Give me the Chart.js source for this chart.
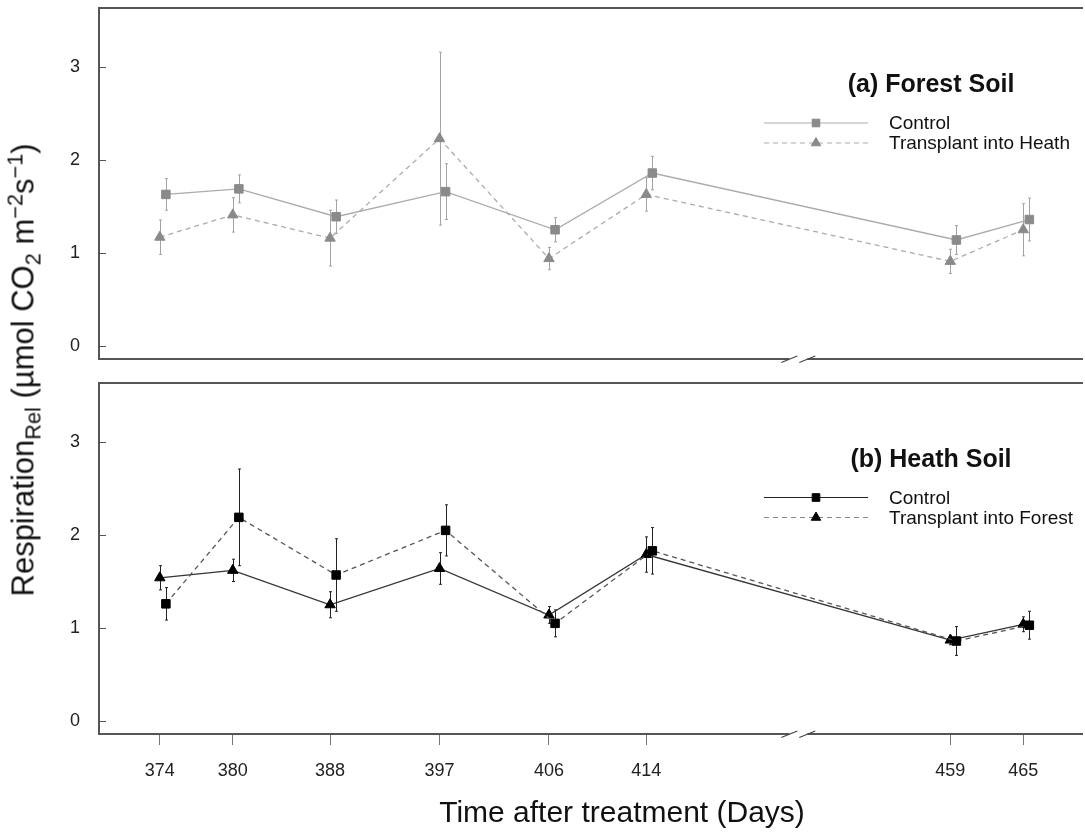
<!DOCTYPE html>
<html>
<head>
<meta charset="utf-8">
<script src="https://cdn.jsdelivr.net/npm/chart.js@4.4.1/dist/chart.umd.min.js"></script>
<style>
  html, body { margin: 0; padding: 0; background: #fff; }
  body { width: 1085px; height: 834px; position: relative; overflow: hidden;
         font-family: "Liberation Sans", Arial, Helvetica, sans-serif; color: #111; }
  .panel { position: absolute; left: 0; width: 1085px; }
  #wrapA { top: 0; height: 372px; }
  #wrapB { top: 372px; height: 462px; }
  #ytitle { position: absolute; left: 23px; top: 370px; white-space: nowrap; line-height: 1;
            font-size: 31px; transform: translate(-50%, -50%) rotate(-90deg); }
  #xtitle { position: absolute; left: 622px; top: 812px; white-space: nowrap; line-height: 1;
            font-size: 30px; transform: translate(-50%, -50%); }
  sub, sup { font-size: 70%; line-height: 0; }
</style>
</head>
<body>
<div class="panel" id="wrapA"><canvas id="forest"></canvas></div>
<div class="panel" id="wrapB"><canvas id="heath"></canvas></div>
<div id="ytitle">Respiration<sub>Rel</sub> (µmol CO<sub>2</sub> m<sup>−2</sup>s<sup>−1</sup>)</div>
<div id="xtitle">Time after treatment (Days)</div>
<script>
/* ── data ─────────────────────────────────────────────────────────── */
const days = [374, 380, 388, 397, 406, 414, 459, 465];
const yTicks = [0, 1, 2, 3];

// (a) Forest soil
const forestControl      = [1.63, 1.69, 1.39, 1.66, 1.25, 1.86, 1.14, 1.36];
const forestControlSE    = [0.17, 0.15, 0.18, 0.30, 0.13, 0.18, 0.155, 0.23];
const forestTransplant   = [1.17, 1.41, 1.16, 2.23, 0.94, 1.63, 0.91, 1.25];
const forestTransplantSE = [0.185, 0.185, 0.30, 0.93, 0.12, 0.18, 0.13, 0.28];

// (b) Heath soil
const heathControl      = [1.26, 2.19, 1.57, 2.05, 1.05, 1.83, 0.86, 1.03];
const heathControlSE    = [0.175, 0.52, 0.39, 0.275, 0.145, 0.25, 0.155, 0.15];
const heathTransplant   = [1.54, 1.62, 1.25, 1.64, 1.14, 1.79, 0.87, 1.04];
const heathTransplantSE = [0.13, 0.12, 0.14, 0.17, 0.09, 0.19, 0.05, 0.08];

/* ── broken x axis: 20 days are cut out between 414 and 459 ───────── */
const BREAK_GAP = 20;
const LAST_BEFORE_BREAK = 414;
const axisX = d => (d > LAST_BEFORE_BREAK ? d - BREAK_GAP : d);
const dayOf = v => (v > LAST_BEFORE_BREAK ? v + BREAK_GAP : v);
const BREAK_AT = (LAST_BEFORE_BREAK + axisX(459)) / 2;
const X_MIN = 369, X_MAX = 449.5;
const Y_MIN = -0.14, Y_MAX = 3.635;
const DODGE = 0.5;   // squares sit a little right of the triangles

const FONT = '"Liberation Sans", Arial, Helvetica, sans-serif';
Chart.defaults.font.family = FONT;
Chart.defaults.color = '#222';

const SQ_R = 6, TRI_R = 6;

function points(vals, ses, dodge){
  return days.map((d, i) => ({ x: axisX(d) + dodge, y: vals[i], se: ses[i] }));
}

/* error bars, drawn under the lines/markers */
const errorBars = {
  id: 'errorBars',
  beforeDatasetsDraw(chart){
    const { ctx, chartArea: a, scales: { x, y } } = chart;
    ctx.save();
    ctx.beginPath();
    ctx.rect(a.left, a.top, a.width, a.height);
    ctx.clip();
    chart.data.datasets.forEach(ds => {
      ctx.strokeStyle = ds.errorColor;
      ctx.lineWidth = 1;
      ds.data.forEach(p => {
        const px = Math.round(x.getPixelForValue(p.x)) + 0.5;
        const top = y.getPixelForValue(p.y + p.se);
        const bot = y.getPixelForValue(p.y - p.se);
        ctx.beginPath();
        ctx.moveTo(px, top); ctx.lineTo(px, bot);
        ctx.moveTo(px - 1.5, top); ctx.lineTo(px + 1.5, top);
        ctx.moveTo(px - 1.5, bot); ctx.lineTo(px + 1.5, bot);
        ctx.stroke();
      });
    });
    ctx.restore();
  }
};

/* box, inward y ticks, axis break, panel title and R-style legend */
const frame = {
  id: 'frame',
  afterDraw(chart, args, opts){
    const { ctx, chartArea: a, scales: { x, y } } = chart;
    ctx.save();
    ctx.strokeStyle = '#555';
    ctx.lineWidth = 2;
    ctx.beginPath();
    ctx.moveTo(a.right + 5, a.top); ctx.lineTo(a.left, a.top);
    ctx.lineTo(a.left, a.bottom); ctx.lineTo(a.right + 5, a.bottom);
    ctx.stroke();

    ctx.lineWidth = 1;
    yTicks.forEach(v => {
      const py = Math.round(y.getPixelForValue(v)) + 0.5;
      ctx.beginPath(); ctx.moveTo(a.left, py); ctx.lineTo(a.left + 7, py); ctx.stroke();
    });

    const bx = x.getPixelForValue(BREAK_AT);
    ctx.fillStyle = '#fff';
    ctx.fillRect(bx - 9, a.bottom - 2, 18, 4);
    ctx.strokeStyle = '#444';
    ctx.lineWidth = 1.2;
    [-9, 9].forEach(dx => {
      ctx.beginPath();
      ctx.moveTo(bx + dx - 8, a.bottom + 3.5);
      ctx.lineTo(bx + dx + 8, a.bottom - 3);
      ctx.stroke();
    });

    // panel title
    ctx.fillStyle = '#111';
    ctx.textBaseline = 'middle';
    ctx.textAlign = 'center';
    ctx.font = `bold 25px ${FONT}`;
    ctx.fillText(opts.title, 931, opts.titleY);

    // legend
    ctx.textAlign = 'left';
    ctx.font = `19px ${FONT}`;
    opts.items.forEach((it, i) => {
      const ly = opts.rowY + i * 20;
      ctx.save();
      ctx.strokeStyle = it.lineColor;
      ctx.lineWidth = 1.2;
      ctx.setLineDash(it.dash);
      ctx.beginPath(); ctx.moveTo(764, ly); ctx.lineTo(868, ly); ctx.stroke();
      ctx.restore();
      ctx.fillStyle = it.pointColor; ctx.strokeStyle = it.pointColor; ctx.lineWidth = 1;
      Chart.helpers.drawPoint(ctx, {
        pointStyle: it.style, radius: it.style === 'rect' ? SQ_R - 0.6 : TRI_R - 0.5, rotation: 0, borderWidth: 1
      }, 816, ly);
      ctx.fillStyle = '#111';
      ctx.fillText(it.label, 889, ly + 1);
    });
    ctx.restore();
  }
};

function lineSet(label, pts, o){
  return {
    label, data: pts,
    borderColor: o.line, borderWidth: 1.3, borderDash: o.dash, tension: 0,
    pointStyle: o.style, pointRadius: o.style === 'rect' ? SQ_R : TRI_R,
    pointBackgroundColor: o.point, pointBorderColor: o.point, pointBorderWidth: 1,
    errorColor: o.err
  };
}

function buildPanel(canvasId, height, padTop, datasets, panelOpts, showX){
  const canvas = document.getElementById(canvasId);
  canvas.width = 1085; canvas.height = height;
  return new Chart(canvas.getContext('2d'), {
    type: 'line',
    data: { datasets },
    options: {
      responsive: false, animation: false, devicePixelRatio: 1,
      layout: { padding: { top: padTop, bottom: showX ? 0 : 13, left: 0, right: 0 } },
      plugins: { legend: { display: false }, tooltip: { enabled: false }, frame: panelOpts },
      scales: {
        x: {
          type: 'linear', min: X_MIN, max: X_MAX, display: showX,
          afterBuildTicks: s => { s.ticks = days.map(d => ({ value: axisX(d) })); },
          afterFit: s => { if (showX) { s.height = 100; s.paddingLeft = 0; s.paddingRight = 0; } },
          grid: { display: true, drawOnChartArea: false, drawTicks: true, tickLength: 11, color: '#777' },
          border: { display: false },
          ticks: { autoSkip: false, maxRotation: 0, padding: 15, color: '#222',
                   font: { size: 18 }, callback: v => String(dayOf(v)) }
        },
        y: {
          min: Y_MIN, max: Y_MAX,
          afterBuildTicks: s => { s.ticks = yTicks.map(v => ({ value: v })); },
          afterFit: s => { s.width = 99; s.paddingTop = 0; s.paddingBottom = 0; },
          grid: { display: false, drawTicks: false },
          border: { display: false },
          ticks: { padding: 19, color: '#222', font: { size: 18 } }
        }
      }
    },
    plugins: [errorBars, frame]
  });
}

const grey = { point: '#8a8a8a', line: '#ababab', err: '#a3a3a3' };

buildPanel('forest', 372, 8, [
  lineSet('Control', points(forestControl, forestControlSE, DODGE),
          { ...grey, dash: [], style: 'rect' }),
  lineSet('Transplant into Heath', points(forestTransplant, forestTransplantSE, 0),
          { ...grey, dash: [5, 4], style: 'triangle' })
], {
  title: '(a) Forest Soil', titleY: 85, rowY: 123,
  items: [
    { label: 'Control', style: 'rect', dash: [], lineColor: '#ababab', pointColor: '#8a8a8a' },
    { label: 'Transplant into Heath', style: 'triangle', dash: [5, 4], lineColor: '#ababab', pointColor: '#8a8a8a' }
  ]
}, false);

// in the heath panel the squares are joined by the dashed line and the triangles by the solid one
buildPanel('heath', 462, 11, [
  lineSet('Control', points(heathControl, heathControlSE, DODGE),
          { point: '#000', line: '#555', err: '#222', dash: [5, 4], style: 'rect' }),
  lineSet('Transplant into Forest', points(heathTransplant, heathTransplantSE, 0),
          { point: '#000', line: '#333', err: '#222', dash: [], style: 'triangle' })
], {
  title: '(b) Heath Soil', titleY: 88, rowY: 125.5,
  items: [
    { label: 'Control', style: 'rect', dash: [], lineColor: '#222', pointColor: '#000' },
    { label: 'Transplant into Forest', style: 'triangle', dash: [5, 4], lineColor: '#888', pointColor: '#000' }
  ]
}, true);
</script>
</body>
</html>
